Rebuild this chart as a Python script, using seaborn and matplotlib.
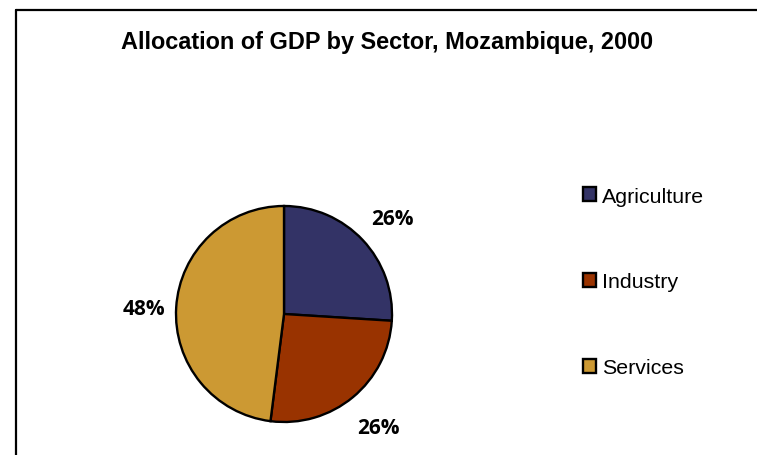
import matplotlib
matplotlib.use("Agg")
import matplotlib.pyplot as plt
from matplotlib.lines import Line2D
import seaborn as sns

# data
sectors = ["Agriculture", "Industry", "Services"]
shares = [26, 26, 48]
colors = ["#333366", "#993300", "#CC9933"]
title = "Allocation of GDP by Sector, Mozambique, 2000"


def pie_chart():
    sns.set_style("white")
    plt.rcParams["font.family"] = ["Liberation Sans", "DejaVu Sans"]
    plt.rcParams["text.color"] = "black"

    fig = plt.figure(figsize=(7.57, 4.56), dpi=100)
    W, H = 757, 456

    # pie centred at ~(284, 315) px, radius ~108 px
    cx, cy, r = 284, 315, 108
    ax = fig.add_axes([(cx - r) / W, (H - cy - r) / H, 2 * r / W, 2 * r / H])
    wedges, _, autotexts = ax.pie(
        shares, colors=colors, startangle=90, counterclock=False,
        autopct="%1.0f%%", pctdistance=1.33,
        wedgeprops=dict(edgecolor="black", linewidth=1.7),
        textprops=dict(fontsize=15, fontweight="bold", color="black",
                       family=["Open Sans", "DejaVu Sans"]),
    )
    # nudge labels a touch down/right like the original
    for t in autotexts:
        x, y = t.get_position()
        t.set_position((x + 0.03, y - 0.03))
    ax.set_xlim(-1, 1)
    ax.set_ylim(-1, 1)
    ax.set_aspect("equal")
    ax.axis("off")

    leg = ax.legend(
        wedges, sectors, loc="center left",
        bbox_to_anchor=(583 / W, (H - 283) / H), bbox_transform=fig.transFigure,
        frameon=False, fontsize=15.4, borderpad=0, borderaxespad=0,
        handlelength=0.61, handleheight=0.61, handletextpad=0.28, labelspacing=3.12,
    )
    for h in leg.legend_handles:
        h.set_linewidth(1.7)
    for t in leg.get_texts():
        t.set_color("black")

    fig.text(387 / W, (H - 42) / H, title, ha="center", va="center",
             fontsize=16.9, fontweight="bold", color="black")

    # chart area border (top and left edges visible)
    fig.add_artist(Line2D([15.5 / W, 15.5 / W], [0, (H - 10.5) / H],
                          transform=fig.transFigure, color="black", linewidth=1.6))
    fig.add_artist(Line2D([15.5 / W, 1], [(H - 10.5) / H, (H - 10.5) / H],
                          transform=fig.transFigure, color="black", linewidth=1.6))

    fig.savefig("out.png", dpi=100)
    plt.close(fig)


def main():
    pie_chart()


if __name__ == "__main__":
    main()
